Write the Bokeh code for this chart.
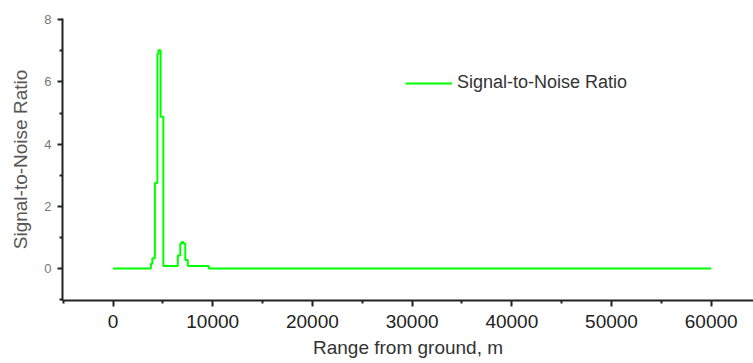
from bokeh.plotting import figure
from bokeh.models import Range1d, FixedTicker, Legend, LegendItem
from bokeh.embed import file_html
from bokeh.resources import INLINE

# Data (step-like profile)
range_m = [0, 3800, 3950, 4200, 4450, 4550, 4780, 5050, 6500, 6750, 6900, 7050, 7250, 7500, 9600, 60000]
snr = [0.0, 0.15, 0.33, 2.75, 6.9, 7.02, 4.88, 0.08, 0.42, 0.8, 0.85, 0.8, 0.27, 0.08, 0.0, 0.0]

x_major = [0, 10000, 20000, 30000, 40000, 50000, 60000]
x_minor = [-5000, 5000, 15000, 25000, 35000, 45000, 55000, 65000]
y_major = [0, 2, 4, 6, 8]
y_minor = [-1, 1, 3, 5, 7]

FONT = "Liberation Sans"

p = figure(width=753, height=363, output_backend="svg", toolbar_location=None,
           x_range=Range1d(-5065, 64240), y_range=Range1d(-1.03, 8.04),
           min_border_left=62, min_border_top=18, min_border_right=0, min_border_bottom=63)
p.outline_line_color = None
p.xgrid.visible = False
p.ygrid.visible = False
p.background_fill_color = "white"
p.border_fill_color = "white"

r = p.step(range_m, snr, mode="after", line_color="#00ff00", line_width=2)

for ax in (p.xaxis[0], p.yaxis[0]):
    ax.axis_line_color = "#222222"
    ax.axis_line_width = 2
    ax.major_tick_line_color = "#222222"
    ax.major_tick_line_width = 2
    ax.minor_tick_line_color = "#222222"
    ax.minor_tick_line_width = 2
    ax.major_tick_in = 0
    ax.minor_tick_in = 0
    ax.axis_label_text_font = FONT
    ax.major_label_text_font = FONT
    ax.axis_label_text_font_style = "normal"

p.xaxis[0].ticker = FixedTicker(ticks=x_major, minor_ticks=x_minor)
p.xaxis[0].major_tick_out = 6
p.xaxis[0].minor_tick_out = 3
p.xaxis[0].major_label_text_font_size = "19px"
p.xaxis[0].major_label_text_color = "#222222"
p.xaxis[0].major_label_standoff = 8
p.xaxis[0].axis_label = "Range from ground, m"
p.xaxis[0].axis_label_text_font_size = "19px"
p.xaxis[0].axis_label_text_color = "#333333"
p.xaxis[0].axis_label_standoff = 6

p.yaxis[0].ticker = FixedTicker(ticks=y_major, minor_ticks=y_minor)
p.yaxis[0].major_tick_out = 5
p.yaxis[0].minor_tick_out = 3
p.yaxis[0].major_label_text_font_size = "13px"
p.yaxis[0].major_label_text_color = "#777777"
p.yaxis[0].major_label_standoff = 6
p.yaxis[0].axis_label = "Signal-to-Noise Ratio"
p.yaxis[0].axis_label_text_font_size = "19px"
p.yaxis[0].axis_label_text_color = "#555555"
p.yaxis[0].axis_label_standoff = 10

legend = Legend(items=[LegendItem(label="Signal-to-Noise Ratio", renderers=[r])],
                location=(343, 207), border_line_color=None, background_fill_alpha=0,
                padding=0, margin=0, glyph_width=47, glyph_height=20, label_height=20,
                label_standoff=5, label_text_font=FONT, label_text_font_size="18px",
                label_text_color="#333333")
p.add_layout(legend, "center")

open("out.html", "w").write(file_html(p, INLINE))
